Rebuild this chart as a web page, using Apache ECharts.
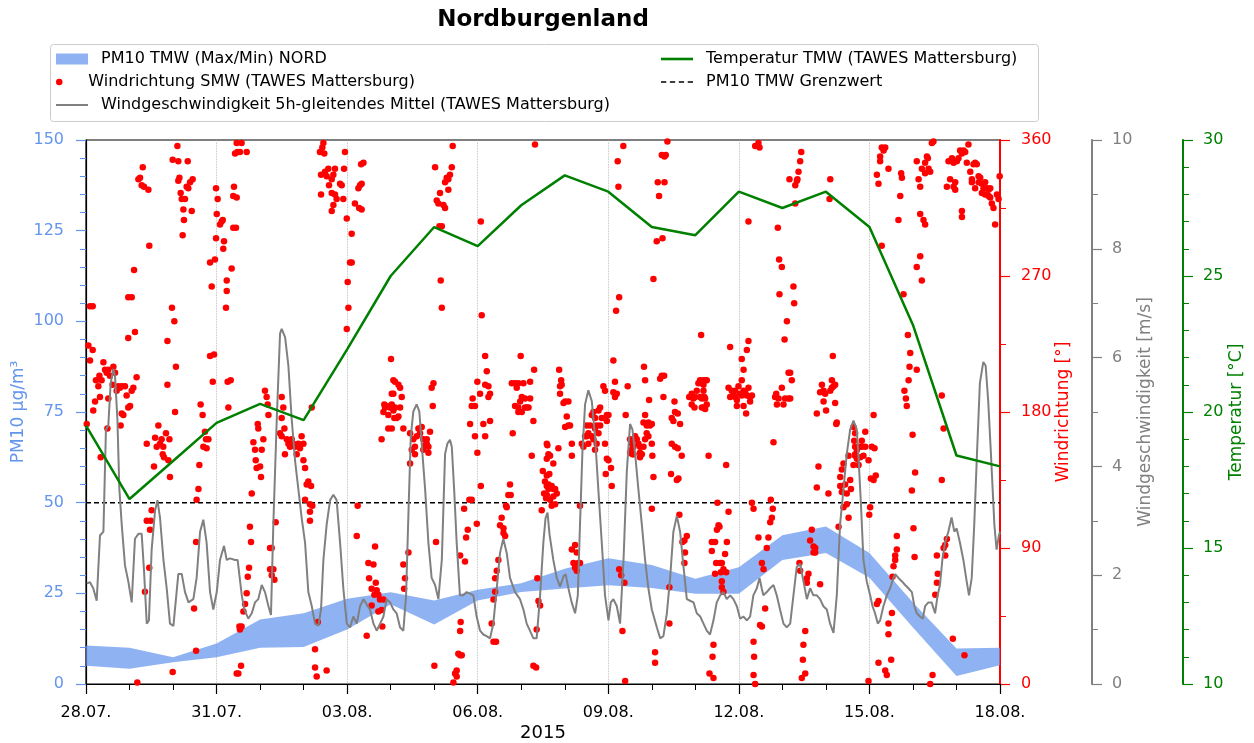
<!DOCTYPE html>
<html>
<head>
<meta charset="utf-8">
<script src="https://cdn.jsdelivr.net/npm/echarts@6/dist/echarts.min.js"></script>
<style>html,body{margin:0;padding:0;background:#fff;overflow:hidden}#c{width:1254px;height:743px}</style>
</head>
<body>
<div id="c"></div>
<script>
// x values are hours since 28.07.2015 00:00
const xLabels = ['28.07.','31.07.','03.08.','06.08.','09.08.','12.08.','15.08.','18.08.'];
const dayHours = [0,24,48,72,96,120,144,168,192,216,240,264,288,312,336,360,384,408,432,456,480,504];
const pmMax = [10.6,10.0,7.4,11.2,17.8,19.5,23.5,25.3,23.0,26.0,27.8,31.8,34.7,32.8,29.0,32.2,41.0,43.4,36.1,22.5,9.8,10.0];
const pmMin = [5.0,4.2,6.0,7.4,10.0,10.2,15.0,22.0,16.4,23.0,25.4,26.3,27.2,26.5,24.9,24.9,34.2,36.1,29.3,15.6,2.2,5.2];
const temperature = [19.5,16.8,18.2,19.6,20.3,19.7,22.3,25.0,26.8,26.1,27.6,28.7,28.1,26.8,26.5,28.1,27.5,28.1,26.8,23.2,18.4,18.0];
const pmLimit = 50;

const windSpeed = [
[0.4,1.85],[2.2,1.87],[4.0,1.76],[5.9,1.53],[7.7,2.73],[9.6,2.80],[11.0,4.68],[12.3,4.75],[13.6,5.53],[15.1,5.79],[16.0,5.66],[17.3,4.88],[18.4,3.58],[19.7,2.93],[21.5,2.18],[23.3,1.89],[25.2,1.50],[27.0,2.67],[28.9,2.76],[30.7,2.76],[32.0,2.08],[33.5,1.11],[34.7,1.17],[36.2,2.47],[38.1,3.19],[39.4,3.38],[40.8,3.06],[42.7,2.28],[44.5,1.76],[46.3,1.11],[48.2,1.07],[50.9,2.02],[52.8,2.02],[54.6,1.69],[56.5,1.50],[59.2,1.56],[61.0,1.95],[62.9,2.80],[64.7,3.02],[66.5,2.60],[68.4,1.69],[70.2,1.37],[72.1,1.69],[73.9,2.28],[76.1,2.54],[77.6,2.28],[79.4,2.31],
[82.2,2.28],[83.6,2.28],[85.9,1.63],[87.3,1.37],[89.5,1.20],[91.4,1.30],[93.2,1.50],[95.0,1.56],[96.9,1.82],[98.7,1.69],[100.6,1.43],[102.0,1.27],[103.3,2.93],[105.2,4.88],[107.0,6.44],[107.9,6.53],[109.8,6.37],[111.6,5.85],[113.4,4.88],[115.3,4.10],[117.1,3.58],[118.9,3.06],[120.8,2.60],[122.6,1.69],[124.5,1.43],[126.3,1.11],[128.1,1.07],[129.6,1.37],[130.9,2.28],[132.7,2.93],[134.6,3.38],[136.4,3.48],[138.2,3.38],[140.1,2.60],[141.9,1.76],[143.8,1.11],[145.6,1.04],[147.4,1.24],[149.3,1.11],[151.1,1.43],[153.0,1.56],[154.8,1.46],[156.6,1.37],[158.5,1.11],[160.3,0.98],[162.2,1.11],[164.0,1.24],[165.8,1.56],
[167.7,1.50],[169.5,1.37],[171.3,1.30],[173.2,1.04],[175.0,0.98],[176.5,1.63],[177.9,3.25],[179.1,4.55],[180.5,5.01],[182.3,5.14],[183.8,5.01],[185.1,4.42],[187.0,3.58],[188.8,2.60],[190.6,1.95],[192.5,1.82],[194.3,1.56],[196.2,2.28],[198.0,4.23],[199.3,4.42],[200.7,4.49],[201.7,4.36],[203.0,3.58],[204.4,2.60],[206.2,1.63],[208.1,1.63],[209.9,1.69],[211.8,1.66],[213.6,1.63],[215.4,1.24],[217.3,0.98],[219.1,0.91],[220.9,0.88],[222.8,0.84],[224.6,1.11],[226.5,1.76],[228.3,2.41],[230.1,2.67],[232.0,2.41],[233.8,1.95],[236.6,1.69],[239.3,1.56],[241.2,1.37],[243.0,1.11],[244.8,0.98],[246.7,0.84],[248.5,0.84],[250.4,1.63],[252.2,2.60],[253.4,3.05],[254.5,3.15],[255.6,2.75],
[257.7,2.28],[259.6,1.95],[261.4,1.79],[263.3,1.98],[264.5,2.02],[266.0,1.76],[267.8,1.50],[269.7,1.30],[271.2,1.63],[272.4,2.93],[273.7,4.23],[275.2,5.14],[277.0,5.40],[278.9,5.20],[280.7,4.55],[282.5,3.58],[284.4,2.60],[286.2,1.63],[288.1,1.17],[289.4,1.50],[290.8,1.56],[292.7,1.43],[294.5,1.11],[296.4,2.28],[298.2,3.90],[300.0,4.78],[301.3,4.68],[302.8,4.23],[304.6,3.58],[306.5,2.93],[308.3,2.28],[310.1,1.76],[312.0,1.37],[314.8,1.04],[316.6,0.84],[318.4,0.88],[320.3,1.30],[322.1,1.95],[323.9,2.80],[325.8,3.09],[327.6,2.80],[329.5,2.15],[331.3,1.56],[333.1,1.53],[335.0,1.50],[336.8,1.30],[338.7,1.24],
[340.5,1.11],[342.3,0.98],[344.1,0.91],[346.0,1.17],[347.8,1.50],[349.7,1.63],[351.5,1.69],[353.3,1.56],[355.2,1.63],[357.0,1.56],[358.9,1.43],[360.7,1.20],[362.5,1.24],[364.4,1.17],[366.2,1.24],[368.0,1.63],[369.9,1.76],[371.4,1.95],[372.6,1.76],[373.5,1.63],[375.4,1.69],[377.2,1.76],[379.1,1.82],[380.9,1.63],[382.7,1.37],[384.6,1.11],[386.4,1.04],[388.3,1.11],[390.1,1.63],[391.9,2.15],[393.8,2.21],[395.6,1.89],[397.5,1.56],[399.3,1.76],[401.1,1.63],[403.0,1.63],[404.8,1.56],[406.6,1.43],[408.5,1.37],[410.3,1.11],[412.2,0.94],[414.0,1.63],[415.8,2.93],[417.7,3.58],[419.5,4.23],[421.4,4.68],[423.2,4.84],
[424.1,4.81],[425.0,4.68],[425.9,4.23],[427.4,3.25],[428.7,2.28],[430.5,1.89],[432.4,1.63],[433.7,1.43],[435.1,1.30],[436.6,1.11],[437.9,1.17],[439.7,1.43],[441.6,1.63],[443.4,1.76],[445.3,1.95],[446.2,2.02],[448.0,1.95],[449.8,1.89],[451.7,1.82],[453.5,1.76],[455.4,1.69],[456.8,1.43],[458.1,1.30],[459.9,1.24],[461.4,1.20],[462.7,1.43],[464.5,1.50],[466.3,1.50],[468.2,1.30],[469.6,1.63],[470.9,1.82],[472.2,2.28],[473.7,2.60],[475.5,2.80],[477.3,3.06],[478.8,2.80],[480.1,2.86],[481.9,2.60],[483.8,2.28],[485.6,1.89],[486.9,1.63],[488.4,1.95],[489.8,2.93],[491.3,4.23],[492.9,5.53],[494.8,5.92],[496.1,5.85],[497.5,5.20],[499.0,4.23],[500.9,2.93],[502.1,2.47],[503.4,2.73],[504.0,2.80]
];

const windDir = [
[2.2,250],[3.7,250],[1.3,224],[3.7,221],[2.2,214],[0.4,172],[4.0,181],[5.0,187],[6.8,197],[5.5,201],[7.4,204],[9.6,213],[10.5,208],[8.6,201],[11.4,206],[12.3,208],[13.2,204],[15.1,210],[16.0,206],[14.7,198],[16.9,194],[17.8,197],[18.7,196],[19.7,197],[21.5,197],[22.4,191],[19.7,179],[20.6,178],[23.3,183],[24.3,184],[25.2,194],[26.1,196],[27.9,203],[7.7,190],[12.3,189],[8.1,150],[19.1,171],[11.8,169],[23.3,256],[25.2,256],[23.3,229],[27.0,233],[26.5,274],[29.8,335],[28.9,334],[30.7,330],[32.0,329],[34.4,327],[31.3,342],[34.9,290],[33.5,159],[38.1,163],[39.9,171],[41.7,162],[39.0,157],[40.8,159],[42.6,157],[42.3,152],[43.0,150],[45.4,148],[46.3,137],[44.1,166],[46.0,162],[37.5,144],[36.2,115],[35.7,108],[33.5,108],[35.3,102],[34.9,77],[32.5,61],[28.3,1],[44.9,227],[44.9,198],[47.4,249],[48.7,240],[49.6,210],[49.1,180],[47.8,8],[50.4,356],[47.8,347],[50.9,346],[56.1,346],[51.5,335],[50.9,333],[52.2,325],[52.8,321],[54.6,321],[53.7,314],[55.5,329],[56.4,328],[57.4,332],[58.8,334],[58.3,313],[54.0,307],[53.3,297],[60.7,22],[59.6,50],[60.7,94],[62.0,129],[61.0,122],[62.5,145],[63.2,185],[64.3,178],[65.6,167],[64.7,157],[66.5,156],[66.2,162],[67.5,162],[68.4,279],[71.1,281],[69.3,263],[68.4,217],[70.6,218],[69.9,200],[72.1,311],[72.6,321],[71.7,328],[73.9,304],[74.8,306],[75.4,307],[71.7,295],[76.1,293],[75.7,288],[77.6,267],[77.6,260],[77.2,249],[80.3,275],[81.2,302],[81.2,323],[81.6,329],[82.2,351],[83.5,352],[78.1,200],[79.8,201],[78.5,183],[84.6,38],[83.1,7],
[84.9,352],[88.6,352],[83.1,358],[85.8,358],[83.1,322],[82.7,302],[91.4,126],[90.4,104],[91.0,94],[89.9,77],[89.2,71],[88.6,60],[87.7,53],[86.8,48],[85.8,38],[84.9,36],[85.5,12],[84.0,7],[92.3,160],[93.2,155],[93.6,148],[94.1,143],[96.0,144],[96.9,155],[96.5,137],[97.8,162],[95.0,169],[94.7,172],[98.7,194],[99.6,190],[100.6,178],[100.2,185],[101.5,90],[102.4,90],[101.5,76],[103.3,76],[102.4,72],[103.9,69],[104.6,107],[107.9,190],[108.8,183],[107.9,176],[107.0,166],[107.9,164],[109.4,169],[110.7,162],[111.6,159],[112.5,157],[113.4,162],[114.3,159],[115.3,157],[116.2,152],[117.1,159],[118.0,156],[118.9,164],[119.9,159],[109.7,152],[119.9,148],[120.8,143],[121.7,132],[120.8,122],[122.6,134],[124.1,131],[124.5,183],[123.5,119],[124.8,118],[123.5,114],[123.5,108],[126.3,11],[127.2,5],[126.3,23],[132.7,9],[127.8,41],[129.0,352],[130.9,358],[130.3,355],[131.4,351],[129.6,337],[131.8,339],[133.6,341],[132.7,336],[135.5,334],[136.4,337],[134.0,330],[135.5,325],[137.3,324],[138.2,321],[137.3,341],[140.1,331],[141.0,330],[141.9,321],[142.8,352],[142.3,341],[135.5,313],[136.4,317],[129.6,324],[143.8,308],[146.5,298],[145.6,279],[146.5,279],[144.3,266],[144.7,249],[143.8,235],[148.3,318],[150.2,328],[151.1,330],[152.0,331],[153.0,345],[151.7,344],[150.6,315],[152.0,314],[149.8,118],[149.3,98],[154.8,32],[155.7,80],[156.1,70],[157.5,63],[159.4,91],[158.5,79],[159.0,59],[157.5,52],[160.3,62],[161.2,59],[159.8,67],[162.1,56],[163.0,49],[161.2,48],[164.0,56],[163.4,38],[163.0,162],[164.0,180],[164.9,183],[165.8,184],[166.7,178],[167.6,183],[168.6,185],[169.5,181],[168.6,192],[169.5,201],[168.2,215],[166.7,169],[170.0,176],[164.5,185],
[170.4,200],[172.3,198],[173.2,196],[174.1,190],[169.5,192],[168.6,183],[170.4,183],[173.2,183],[171.3,176],[172.3,177],[175.0,169],[168.6,169],[178.7,166],[179.6,155],[180.5,162],[181.4,157],[182.4,164],[183.3,169],[184.2,166],[185.1,170],[186.0,162],[187.0,158],[187.9,162],[188.8,157],[189.7,167],[181.4,152],[178.7,146],[186.0,155],[187.9,159],[188.8,153],[190.6,196],[191.6,199],[191.2,184],[175.0,79],[175.9,70],[175.4,63],[177.8,87],[192.5,342],[193.4,320],[195.2,325],[194.3,318],[197.1,317],[198.0,315],[198.0,332],[198.9,335],[199.8,334],[200.7,337],[201.7,342],[199.8,327],[202.2,356],[194.9,303],[196.2,303],[195.6,267],[196.2,249],[193.0,94],[192.1,12],[203.5,7],[204.4,9],[205.3,20],[206.3,19],[207.2,19],[202.6,1],[204.4,5],[206.3,35],[206.6,41],[209.0,81],[209.6,97],[210.5,102],[206.3,85],[208.5,116],[211.4,122],[212.7,122],[215.5,106],[211.8,172],[212.7,184],[213.2,189],[214.5,184],[214.5,164],[215.8,153],[215.8,200],[217.3,192],[217.7,131],[217.7,306],[218.2,244],[220.1,217],[221.0,207],[220.1,198],[221.9,197],[222.8,192],[221.9,190],[219.1,172],[220.1,164],[222.8,174],[223.7,40],[224.7,56],[225.6,70],[226.5,75],[225.6,61],[227.4,82],[228.3,105],[229.2,110],[230.2,103],[231.1,98],[230.2,100],[231.6,118],[232.0,117],[232.9,125],[233.8,132],[234.2,125],[224.7,28],[226.1,28],[235.3,166],[234.8,199],[236.6,199],[237.5,196],[238.4,199],[236.6,184],[238.4,183],[239.4,187],[240.3,190],[241.2,199],[242.1,189],[243.0,183],[244.0,183],[242.1,183],[240.3,180],[238.4,180],[244.9,200],[244.9,189],[246.7,174],[239.7,217],[247.1,208],[245.8,151],[246.7,12],[248.2,11],[248.5,36],[249.5,55],[250.4,52],[248.9,70],[251.3,115],[252.6,126],[251.9,141],[253.1,134],[254.1,131],[254.4,158],[254.1,149],[255.5,139],[255.0,129],[253.7,123],[247.6,357],
[254.1,159],[255.0,152],[255.9,151],[254.1,138],[255.0,132],[256.8,131],[257.7,129],[258.7,129],[259.6,126],[257.7,124],[256.8,118],[255.9,122],[258.7,119],[254.1,125],[257.7,146],[260.5,156],[260.9,208],[262.0,201],[261.4,197],[262.3,198],[261.4,192],[263.3,186],[264.2,187],[266.0,187],[265.1,177],[264.2,170],[266.0,171],[266.9,171],[267.9,159],[267.9,151],[272.4,118],[267.9,89],[269.7,92],[270.6,87],[268.8,80],[269.7,77],[271.5,80],[272.4,80],[270.6,75],[273.4,159],[274.3,157],[275.2,164],[276.1,171],[277.0,166],[278.0,171],[278.9,178],[279.8,180],[280.7,176],[281.6,171],[282.6,166],[283.5,171],[283.5,183],[282.6,181],[280.7,169],[279.8,162],[277.0,159],[276.1,164],[278.9,164],[280.7,155],[281.6,159],[284.4,176],[285.3,197],[286.2,194],[287.2,178],[288.1,178],[287.2,174],[286.2,159],[287.2,149],[288.1,148],[289.5,143],[286.6,139],[289.9,131],[290.8,214],[291.7,200],[290.8,193],[291.7,190],[292.7,192],[298.7,197],[297.6,178],[293.2,346],[293.6,329],[292.3,247],[294.0,256],[296.3,356],[294.0,76],[295.1,72],[296.9,67],[295.8,35],[297.3,2],[300.0,162],[300.9,159],[301.9,157],[302.8,164],[303.7,162],[304.6,159],[305.5,157],[305.5,150],[306.5,152],[307.4,157],[308.3,162],[309.2,171],[310.1,173],[311.0,171],[308.3,178],[309.2,166],[310.1,164],[307.4,173],[300.9,155],[301.9,152],[300.0,153],[301.3,152],[305.5,153],[312.3,151],[312.9,137],[312.0,159],[312.0,172],[307.7,210],[308.3,201],[310.5,188],[318.4,190],[312.0,116],[313.8,21],[313.8,14],[321.7,64],[321.7,40],[327.2,112],[328.9,94],[330.0,80],[330.3,87],[331.3,98],[330.0,95],[312.9,268],[314.7,293],[317.9,295],[316.0,323],[315.3,332],[319.0,332],[319.0,349],[317.5,350],[319.7,350],[320.6,359],[316.6,202],[317.5,204],[318.8,204],[323.0,176],[323.9,174],[324.8,180],[326.3,179],[327.6,172],[323.0,159],[324.8,157],[326.3,156],[328.5,151],[322.6,139],[325.8,135],[326.7,136],[324.5,187],[332.6,190],[334.0,192],[334.9,189],[335.9,190],[336.8,194],[337.7,199],[338.6,201],[339.5,199],[340.5,201],[338.6,190],[339.5,190],[340.5,183],[334.0,185],[335.5,183],[341.0,190],[339.2,231],
[339.6,200],[340.5,198],[341.4,201],[342.3,201],[340.5,194],[339.6,189],[341.4,189],[342.3,185],[341.4,182],[339.6,183],[343.3,151],[346.0,26],[345.5,18],[343.8,7],[346.0,4],[346.9,94],[347.9,102],[348.8,105],[349.3,104],[345.1,94],[345.1,88],[347.5,80],[346.9,73],[349.7,80],[350.6,80],[350.1,74],[351.5,76],[350.6,68],[351.5,61],[352.4,86],[353.4,94],[354.3,114],[348.2,120],[353.0,74],[350.6,64],[353.0,145],[355.2,223],[354.3,196],[356.1,194],[355.2,190],[357.0,191],[358.0,190],[358.9,188],[358.0,194],[359.8,197],[360.7,192],[361.6,191],[362.6,194],[363.5,193],[364.4,191],[365.3,196],[366.2,190],[367.2,191],[358.9,184],[362.6,184],[364.0,179],[366.2,187],[361.6,201],[362.6,208],[361.6,215],[364.4,221],[365.3,227],[367.2,120],[368.1,116],[370.8,97],[372.7,80],[373.6,76],[371.7,39],[372.7,38],[368.1,28],[368.4,18],[368.1,6],[369.0,0],[369.0,356],[370.8,358],[371.4,355],[365.3,306],[374.5,50],[375.4,90],[377.3,107],[378.2,110],[377.6,122],[378.7,116],[376.3,97],[379.1,160],[380.0,190],[381.0,185],[380.6,192],[381.9,189],[384.6,185],[383.7,196],[385.5,189],[387.4,189],[388.3,189],[389.2,201],[387.4,206],[388.3,206],[381.5,302],[382.2,281],[383.7,276],[382.4,258],[386.5,240],[385.2,228],[387.9,334],[391.1,330],[392.3,334],[392.9,339],[393.8,346],[394.4,352],[392.0,333],[391.1,318],[390.1,263],[390.5,252],[393.4,80],[393.8,75],[395.6,26],[396.6,35],[395.3,16],[394.7,4],[396.6,7],[397.5,67],[399.3,95],[400.2,102],[401.2,91],[402.1,87],[401.2,87],[402.1,90],[398.4,73],[397.5,70],[403.0,130],[403.9,144],[404.8,66],[403.0,179],[404.8,193],[405.8,198],[406.7,194],[407.6,192],[406.7,187],[408.1,181],[410.4,194],[411.3,196],[412.2,197],[413.1,198],[411.3,201],[411.8,217],[413.1,186],[414.0,173],[413.7,172],[409.4,126],[410.4,334],[410.0,321],[415.0,104],[415.9,137],[415.9,131],[416.8,142],[417.7,146],[418.6,132],[419.5,126],[420.5,151],[421.4,135],[421.8,129],[420.5,110],[419.5,119],[416.8,127],[423.2,170],[423.6,161],[424.1,157],[424.1,151],[425.1,149],[426.0,145],[425.1,155],[423.2,145],[417.7,117],
[424.1,166],[426.3,157],[427.8,157],[429.7,157],[426.9,150],[424.1,152],[428.7,151],[431.5,148],[429.7,167],[427.8,161],[433.3,157],[434.8,156],[434.3,178],[432.8,136],[434.3,135],[435.5,138],[432.4,117],[431.9,112],[431.5,2],[437.0,14],[440.7,9],[441.6,6],[444.0,16],[442.5,33],[436.1,53],[444.4,47],[442.5,40],[444.7,71],[445.3,78],[446.2,82],[447.1,89],[447.1,98],[446.2,85],[436.1,337],[437.0,331],[437.9,349],[438.8,355],[439.8,353],[440.7,355],[442.5,341],[437.9,346],[438.8,290],[437.0,55],[448.0,307],[449.5,338],[449.9,335],[449.0,323],[450.8,258],[453.2,231],[454.5,219],[454.1,210],[453.6,201],[451.3,194],[452.1,189],[452.6,184],[455.8,165],[457.2,140],[455.4,128],[456.3,103],[456.9,84],[458.1,208],[458.1,346],[459.1,334],[460.0,329],[460.9,341],[462.7,345],[463.7,349],[464.6,341],[465.5,339],[466.4,358],[467.3,359],[462.7,338],[464.2,348],[460.0,311],[461.8,307],[462.7,304],[458.1,276],[460.0,283],[460.9,267],[465.5,0],[466.8,6],[468.3,59],[469.2,67],[469.7,73],[469.2,85],[472.9,90],[473.8,92],[474.7,96],[472.9,169],[471.9,135],[471.9,191],[473.8,85],[474.7,329],[475.6,346],[476.5,334],[477.5,348],[478.4,345],[479.3,332],[480.2,346],[481.1,348],[482.0,353],[483.0,351],[483.9,353],[484.8,352],[486.6,357],[485.7,345],[487.6,339],[488.5,334],[489.4,344],[490.3,345],[491.2,344],[492.2,336],[493.1,335],[494.0,331],[494.9,328],[495.8,332],[496.8,328],[497.7,327],[498.6,322],[499.5,318],[500.4,315],[501.3,304],[502.3,324],[503.2,321],[503.8,336],[483.0,313],[483.0,309],[478.4,329],[479.3,327],[488.5,332],[490.3,328],[492.2,332],[494.0,325],[495.8,324],[497.7,323],[498.6,328],[478.0,30],[484.4,19]
];

const NAME_BAND = 'PM10 TMW (Max/Min) NORD';
const NAME_DIR = 'Windrichtung SMW (TAWES Mattersburg)';
const NAME_SPEED = 'Windgeschwindigkeit 5h-gleitendes Mittel (TAWES Mattersburg)';
const NAME_TEMP = 'Temperatur TMW (TAWES Mattersburg)';
const NAME_LIMIT = 'PM10 TMW Grenzwert';

const FONT = 'DejaVu Sans';
const BLUE = '#6495ED', RED = '#ff0000', GRAY = '#808080', GREEN = '#008000';
const BAND = 'rgba(100,149,237,0.72)';

const chart = echarts.init(document.getElementById('c'), null, {renderer: 'canvas'});

function legendRow(name, left, top, w, h, icon, extra) {
  return Object.assign({
    data: [{name: name, icon: icon}],
    left: left, top: top, padding: 0, itemWidth: w, itemHeight: h,
    selectedMode: false,
    textStyle: {fontFamily: FONT, fontSize: 16, color: '#000', padding: [0, 0, 0, 8]}
  }, extra || {});
}

function yAx(opts) {
  return Object.assign({
    type: 'value',
    splitLine: {show: false},
    nameLocation: 'middle',
    nameRotate: 90,
    nameMoveOverlap: false
  }, opts);
}

const bandData = dayHours.map((h, i) => [h, pmMin[i], pmMax[i]]);

const option = {
  animation: false,
  backgroundColor: '#fff',
  textStyle: {fontFamily: FONT},
  title: {
    text: 'Nordburgenland', left: 543, top: 9, padding: 0, textAlign: 'center',
    textStyle: {fontFamily: FONT, fontSize: 23, fontWeight: 'bold', color: '#000'}
  },
  graphic: [{
    type: 'rect', left: 50, top: 44, z: -1,
    shape: {width: 988, height: 77, r: 3},
    style: {fill: '#fff', stroke: '#cccccc', lineWidth: 1}
  }],
  legend: [
    legendRow(NAME_BAND, 56, 51, 32, 11, 'rect'),
    legendRow(NAME_DIR, 56, 74, 32, 6.5, 'circle'),
    legendRow(NAME_SPEED, 56, 97, 32, 2, 'rect'),
    legendRow(NAME_TEMP, 661, 51, 32, 2.6, 'rect'),
    legendRow(NAME_LIMIT, 661, 74, 32, 1.5, 'path://M0,0h6.5v1h-6.5zM11,0h6.5v1h-6.5zM22,0h6.5v1h-6.5zM33,0h6.5v1h-6.5z', {symbolKeepAspect: false})
  ],
  grid: {left: 86, right: 254, top: 140, bottom: 59, show: true, borderColor: '#000', borderWidth: 1.2,
    backgroundColor: 'transparent', containLabel: false, outerBoundsMode: 'none'},
  xAxis: {
    type: 'value', min: 0, max: 504, interval: 72,
    name: '2015', nameLocation: 'middle', nameGap: 40, nameMoveOverlap: false,
    nameTextStyle: {fontFamily: FONT, fontSize: 18, color: '#000'},
    axisLine: {show: true, lineStyle: {color: '#000', width: 1.2}},
    axisTick: {show: true, length: 10, lineStyle: {color: '#000', width: 1.2}},
    minorTick: {show: true, splitNumber: 3, length: 6, lineStyle: {color: '#000', width: 1}},
    axisLabel: {fontFamily: FONT, fontSize: 16, color: '#000', margin: 21,
      formatter: v => xLabels[Math.round(v / 72)]},
    splitLine: {show: true, lineStyle: {color: '#b0b0b0', type: 'dotted', width: 0.8}}
  },
  yAxis: [
    yAx({position: 'left', min: 0, max: 150, interval: 25,
      name: 'PM10 µg/m³', nameGap: 59,
      nameTextStyle: {fontFamily: FONT, fontSize: 17, color: BLUE},
      axisLine: {show: true, lineStyle: {color: '#000', width: 1.2}},
      axisTick: {show: true, length: 10, lineStyle: {color: BLUE, width: 1.2}},
      minorTick: {show: true, splitNumber: 5, length: 6, lineStyle: {color: BLUE, width: 1}},
      axisLabel: {fontFamily: FONT, fontSize: 16, color: BLUE, margin: 22}}),
    yAx({position: 'right', min: 0, max: 360, interval: 90,
      name: 'Windrichtung [°]', nameGap: 55,
      nameTextStyle: {fontFamily: FONT, fontSize: 17, color: RED},
      axisLine: {show: true, lineStyle: {color: RED, width: 2}},
      axisTick: {show: true, length: 10, lineStyle: {color: RED, width: 1.2}},
      minorTick: {show: true, splitNumber: 2, length: 6, lineStyle: {color: RED, width: 1}},
      axisLabel: {fontFamily: FONT, fontSize: 16, color: RED, margin: 21}}),
    yAx({position: 'right', offset: 92, min: 0, max: 10, interval: 2,
      name: 'Windgeschwindigkeit [m/s]', nameGap: 45,
      nameTextStyle: {fontFamily: FONT, fontSize: 17, color: GRAY},
      axisLine: {show: true, lineStyle: {color: GRAY, width: 2}},
      axisTick: {show: true, length: 10, lineStyle: {color: GRAY, width: 1.2}},
      minorTick: {show: true, splitNumber: 2, length: 6, lineStyle: {color: GRAY, width: 1}},
      axisLabel: {fontFamily: FONT, fontSize: 16, color: GRAY, margin: 20}}),
    yAx({position: 'right', offset: 183, min: 10, max: 30, interval: 5,
      name: 'Temperatur [°C]', nameGap: 45,
      nameTextStyle: {fontFamily: FONT, fontSize: 17, color: GREEN},
      axisLine: {show: true, lineStyle: {color: GREEN, width: 2}},
      axisTick: {show: true, length: 10, lineStyle: {color: GREEN, width: 1.2}},
      minorTick: {show: true, splitNumber: 5, length: 6, lineStyle: {color: GREEN, width: 1}},
      axisLabel: {fontFamily: FONT, fontSize: 16, color: GREEN, margin: 20}})
  ],
  series: [
    {name: NAME_BAND, type: 'custom', yAxisIndex: 0, z: 1,
      data: bandData, encode: {x: 0, y: [1, 2]},
      itemStyle: {color: BAND},
      renderItem: function (params, api) {
        if (params.dataIndex !== 0) return null;
        const pts = [];
        for (let i = 0; i < bandData.length; i++) pts.push(api.coord([bandData[i][0], bandData[i][2]]));
        for (let i = bandData.length - 1; i >= 0; i--) pts.push(api.coord([bandData[i][0], bandData[i][1]]));
        return {type: 'polygon', shape: {points: pts}, style: {fill: BAND}};
      }},
    {name: NAME_LIMIT, type: 'line', yAxisIndex: 0, symbol: 'none', z: 2,
      data: [[0, pmLimit], [504, pmLimit]],
      itemStyle: {color: '#000'}, lineStyle: {color: '#000', width: 1.5, type: [5, 3]}},
    {name: NAME_DIR, type: 'scatter', yAxisIndex: 1, data: windDir, z: 3,
      symbolSize: 6.5, itemStyle: {color: RED, opacity: 1}},
    {name: NAME_SPEED, type: 'line', yAxisIndex: 2, data: windSpeed, symbol: 'none', z: 4,
      itemStyle: {color: GRAY}, lineStyle: {color: GRAY, width: 2}},
    {name: NAME_TEMP, type: 'line', yAxisIndex: 3, symbol: 'none', z: 5,
      data: temperature.map((v, i) => [dayHours[i], v]),
      itemStyle: {color: GREEN}, lineStyle: {color: GREEN, width: 2.5}}
  ]
};
chart.setOption(option);
</script>
</body>
</html>
